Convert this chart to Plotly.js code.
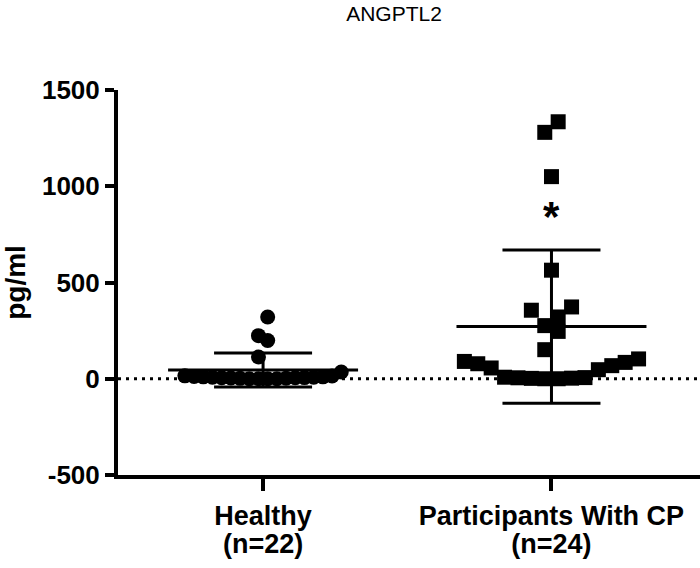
<!DOCTYPE html>
<html>
<head>
<meta charset="utf-8">
<script src="https://cdn.plot.ly/plotly-3.0.1.min.js"></script>
<style>html,body{margin:0;padding:0;background:#fff;}#chart{width:700px;height:568px;}</style>
</head>
<body>
<div id="chart"></div>
<script>
// ---- data ----
const chartTitle = 'ANGPTL2';
const yAxisTitle = 'pg/ml';
const categories = ['Healthy', 'Participants With CP'];
const groupCounts = ['(n=22)', '(n=24)'];
const healthyValues = [0, 0, 0, 0, 2, 3, 4, 5, 5, 6, 8, 8, 10, 10, 12, 14, 15, 35, 113, 199, 224, 321];
const cpValues = [0, 0, 2, 3, 5, 6, 8, 47, 56, 68, 78, 85, 90, 103, 151, 246, 276, 321, 356, 373, 564, 1050, 1280, 1335];
const yTickValues = [-500, 0, 500, 1000, 1500];
const significanceMark = '*';
const significanceY = 845;

// ---- layout constants ----
const W = 700, H = 568;
const M = {l: 118, r: 0, t: 90, b: 93};
const xRange = [-0.503, 1.515];
const yRange = [-500, 1500];
const pxPerX = (W - M.l - M.r) / (xRange[1] - xRange[0]);

function mean(a) { return a.reduce((s, v) => s + v, 0) / a.length; }
function sd(a) { const m = mean(a); return Math.sqrt(a.reduce((s, v) => s + (v - m) * (v - m), 0) / (a.length - 1)); }

// Scatter-dot spreading: values binned into rows, each row spread symmetrically,
// lowest values nearest the centre.
function spread(vals, binUnits) {
  const idx = vals.map((v, i) => i).sort((a, b) => vals[a] - vals[b]);
  const rows = []; let cur = []; let start = null;
  idx.forEach(i => {
    if (start === null || vals[i] - start > binUnits) { if (cur.length) rows.push(cur); cur = [i]; start = vals[i]; }
    else cur.push(i);
  });
  if (cur.length) rows.push(cur);
  const off = new Array(vals.length).fill(0);
  rows.forEach(r => {
    const n = r.length, slots = [];
    for (let k = 0; k < n; k++) slots.push(k - (n - 1) / 2);
    slots.sort((a, b) => (Math.abs(a) - Math.abs(b)) || (a - b));
    r.forEach((i, j) => { off[i] = slots[j]; });
  });
  return off;
}

const groups = [healthyValues, cpValues];
const symbols = ['circle', 'square'];
const stepPx = [9.2, 13.4];
const binUnits = 105;

const traces = [];
groups.forEach((vals, g) => {
  const off = spread(vals, binUnits);
  traces.push({
    type: 'scatter', mode: 'markers',
    x: off.map(o => g + o * stepPx[g] / pxPerX),
    y: vals,
    marker: {symbol: symbols[g], size: 15, color: '#000', line: {width: 0}},
    hoverinfo: 'y', showlegend: false
  });
});

const means = groups.map(mean);
const sds = groups.map(sd);
const meanHalf = 95 / pxPerX;
const mx = [], my = [];
means.forEach((m, g) => { mx.push(g - meanHalf, g + meanHalf, null); my.push(m, m, null); });
traces.push({
  type: 'scatter', mode: 'lines', x: mx, y: my,
  line: {color: '#000', width: 3}, hoverinfo: 'skip', showlegend: false
});
traces.push({
  type: 'scatter', mode: 'markers', x: [0, 1], y: means, xaxis: 'x2',
  marker: {size: 1, opacity: 0},
  error_y: {type: 'data', array: sds, visible: true, color: '#000', thickness: 3, width: 49},
  hoverinfo: 'skip', showlegend: false
});

const boldFont = {family: 'Liberation Sans, Arial, sans-serif', size: 26, color: '#000', weight: 'bold'};

const layout = {
  width: W, height: H, margin: M,
  paper_bgcolor: '#fff', plot_bgcolor: '#fff',
  showlegend: false,
  title: {
    text: chartTitle, font: {family: 'Liberation Sans, Arial, sans-serif', size: 21, color: '#000'},
    x: 394 / W, xanchor: 'center', xref: 'container', y: 1 - 14 / H, yanchor: 'middle', yref: 'container'
  },
  xaxis: {
    range: xRange, tickvals: [0, 1], ticktext: categories,
    showline: true, linecolor: '#000', linewidth: 4, ticks: 'outside', ticklen: 12, tickwidth: 4, tickcolor: '#000',
    showgrid: false, zeroline: false, tickfont: Object.assign({}, boldFont, {size: 27}), fixedrange: true,
    ticklabelstandoff: 2
  },
  xaxis2: {
    range: xRange, overlaying: 'x', anchor: 'y', side: 'bottom', tickvals: [0, 1], ticktext: groupCounts,
    showline: false, ticks: '', showgrid: false, zeroline: false,
    tickfont: Object.assign({}, boldFont, {size: 27}), ticklabelstandoff: 50, fixedrange: true
  },
  yaxis: {
    range: yRange, tickvals: yTickValues, ticktext: yTickValues.map(String),
    showline: true, linecolor: '#000', linewidth: 4, ticks: 'outside', ticklen: 9, tickwidth: 4, tickcolor: '#000',
    showgrid: false, zeroline: false, tickfont: boldFont, fixedrange: true,
    title: {text: yAxisTitle, font: Object.assign({}, boldFont, {size: 28}), standoff: 10}
  },
  shapes: [{
    type: 'line', xref: 'paper', x0: 0, x1: 1, yref: 'y', y0: 0, y1: 0,
    line: {color: '#000', width: 3, dash: '3px,5px'}, layer: 'below'
  }],
  annotations: [{
    x: 1, y: significanceY, xref: 'x', yref: 'y', text: significanceMark, showarrow: false,
    font: {family: 'Liberation Sans, Arial, sans-serif', size: 42, color: '#000', weight: 'bold'},
    xanchor: 'center', yanchor: 'middle'
  }]
};

Plotly.newPlot('chart', traces, layout, {staticPlot: true, displayModeBar: false});
</script>
</body>
</html>
